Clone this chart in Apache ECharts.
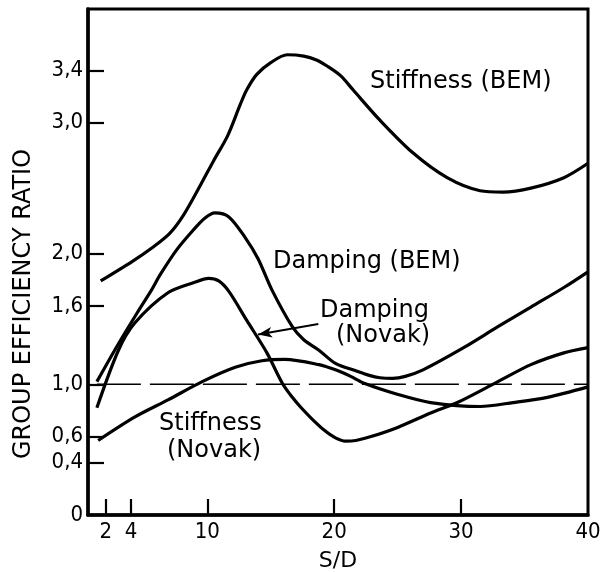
<!DOCTYPE html>
<html>
<head>
<meta charset="utf-8">
<script src="https://cdn.jsdelivr.net/npm/echarts@6/dist/echarts.min.js"></script>
<style>
  html, body { margin: 0; padding: 0; background: #fff; }
  #chart { width: 607px; height: 572px; }
</style>
</head>
<body>
<div id="chart"></div>
<script>
// ticks on the axes
const xTicks = [2, 4, 10, 20, 30, 40];
const yTicks = [0, 0.4, 0.6, 1.0, 1.6, 2.0, 3.0, 3.4];
const yTickLabels = ["0", "0,4", "0,6", "1,0", "1,6", "2,0", "3,0", "3,4"];

// curves: [S/D, ratio]
const stiffnessBem = [
  [1.6, 1.79], [4.1, 1.94], [5.6, 2.04], [7.0, 2.15], [8.1, 2.29], [9.5, 2.53],
  [10.5, 2.71], [11.6, 2.90], [12.6, 3.14], [13.1, 3.25], [13.9, 3.37], [15.0, 3.46],
  [16.3, 3.52], [17.6, 3.51], [18.6, 3.48], [19.5, 3.43], [20.5, 3.36], [21.5, 3.25],
  [23.6, 3.02], [26.2, 2.77], [28.9, 2.58], [31.5, 2.48], [33.3, 2.47], [35.5, 2.50],
  [38.1, 2.58], [40, 2.69]
];
const dampingBem = [
  [1.3, 1.02], [3.0, 1.31], [4.5, 1.55], [5.6, 1.72], [6.3, 1.84], [7.6, 2.03],
  [8.9, 2.18], [9.8, 2.27], [10.6, 2.31], [11.7, 2.28], [13.0, 2.12], [14.0, 1.96],
  [15.1, 1.72], [16.7, 1.44], [17.6, 1.34], [18.8, 1.26], [20.1, 1.16], [21.8, 1.10],
  [22.7, 1.07], [23.6, 1.05], [24.6, 1.045], [25.6, 1.06], [27.0, 1.11], [30.2, 1.28],
  [32.9, 1.44], [35.5, 1.59], [38.1, 1.74], [40, 1.86]
];
const dampingNovak = [
  [1.3, 0.82], [3.0, 1.26], [4.3, 1.47], [6.9, 1.70], [9.0, 1.78], [10.1, 1.81],
  [10.9, 1.79], [11.7, 1.71], [13.1, 1.49], [14.7, 1.24], [15.9, 1.01], [16.7, 0.90],
  [17.4, 0.82], [18.3, 0.73], [19.2, 0.65], [20.1, 0.59], [20.9, 0.565], [21.7, 0.57],
  [22.9, 0.60], [25.0, 0.67], [27.6, 0.78], [29.7, 0.86], [32.9, 1.02], [35.5, 1.15],
  [38.1, 1.24], [40, 1.28]
];
const stiffnessNovak = [
  [1.4, 0.57], [4.3, 0.75], [6.9, 0.88], [9.6, 1.02], [12.2, 1.13], [14.3, 1.18],
  [16.1, 1.19], [18.8, 1.15], [20.1, 1.11], [21.3, 1.06], [22.3, 1.01], [25.1, 0.92],
  [27.6, 0.86], [31.5, 0.83], [34.1, 0.86], [36.8, 0.90], [40, 0.98]
];
const unityLine = [[1.3, 1.0], [40, 1.0]];
const novakArrow = [[18.75, 1.46], [14.0, 1.38]];

const FONT = "DejaVu Sans";
const TICK_FONT = "DejaVu Sans Condensed";

function curve(name, data) {
  return {
    name: name,
    type: "line",
    data: data,
    smooth: 0.3,
    showSymbol: false,
    lineStyle: { color: "#000", width: 3.2 },
    z: 3,
  };
}

function note(text, left, top) {
  return {
    type: "text",
    left: left,
    top: top,
    style: { text: text, font: "24px " + FONT, fill: "#000" },
  };
}

let myChart = echarts.init(document.getElementById("chart"));

let option = {
  backgroundColor: "#fff",
  animation: false,
  textStyle: { fontFamily: FONT, color: "#000" },
  grid: {
    left: 88,
    right: 19,
    top: 9,
    bottom: 57,
    outerBoundsMode: "none",
    show: true,
    borderColor: "#000",
    borderWidth: 3,
  },
  xAxis: {
    type: "value",
    min: 0.6,
    max: 40,
    name: "S/D",
    nameLocation: "center",
    nameGap: 35,
    nameTextStyle: { fontFamily: FONT, fontSize: 22, color: "#000" },
    splitLine: { show: false },
    axisLine: { show: true, lineStyle: { color: "#000", width: 3.5 } },
    axisTick: {
      show: true,
      inside: true,
      length: 16,
      customValues: xTicks.slice(0, 5),
      lineStyle: { color: "#000", width: 2.2 },
    },
    axisLabel: {
      customValues: xTicks,
      margin: 6,
      fontFamily: TICK_FONT,
      fontSize: 22,
      color: "#000",
    },
  },
  yAxis: {
    type: "value",
    min: 0,
    max: 3.87,
    splitLine: { show: false },
    axisLine: { show: true, lineStyle: { color: "#000", width: 3.5 } },
    axisTick: {
      show: true,
      inside: true,
      length: 16,
      customValues: yTicks.slice(1),
      lineStyle: { color: "#000", width: 2.2 },
    },
    axisLabel: {
      customValues: yTicks,
      margin: 5,
      fontFamily: TICK_FONT,
      fontSize: 22,
      color: "#000",
      formatter: (v) => {
        let i = yTicks.findIndex((t) => Math.abs(t - v) < 1e-6);
        return i >= 0 ? yTickLabels[i] : "";
      },
    },
  },
  series: [
    curve("Stiffness (BEM)", stiffnessBem),
    curve("Damping (BEM)", dampingBem),
    curve("Damping (Novak)", dampingNovak),
    curve("Stiffness (Novak)", stiffnessNovak),
    {
      name: "unity",
      type: "line",
      data: unityLine,
      showSymbol: false,
      lineStyle: { color: "#000", width: 1.6, type: [44, 9] },
      z: 2,
      markLine: {
        silent: true,
        symbol: ["none", "arrow"],
        symbolSize: [8, 14],
        label: { show: false },
        lineStyle: { color: "#000", width: 2, type: "solid" },
        data: [[{ coord: novakArrow[0] }, { coord: novakArrow[1] }]],
      },
    },
  ],
  graphic: [
    {
      type: "text",
      x: 24,
      y: 304,
      rotation: Math.PI / 2,
      style: {
        text: "GROUP EFFICIENCY RATIO",
        font: "24px " + FONT,
        fill: "#000",
        align: "center",
        verticalAlign: "middle",
      },
    },
    note("Stiffness (BEM)", 370, 70),
    note("Damping (BEM)", 273, 250),
    note("Damping", 320, 299),
    note("(Novak)", 336, 324),
    note("Stiffness", 159, 412),
    note("(Novak)", 167, 439),
  ],
};

myChart.setOption(option);
</script>
</body>
</html>
